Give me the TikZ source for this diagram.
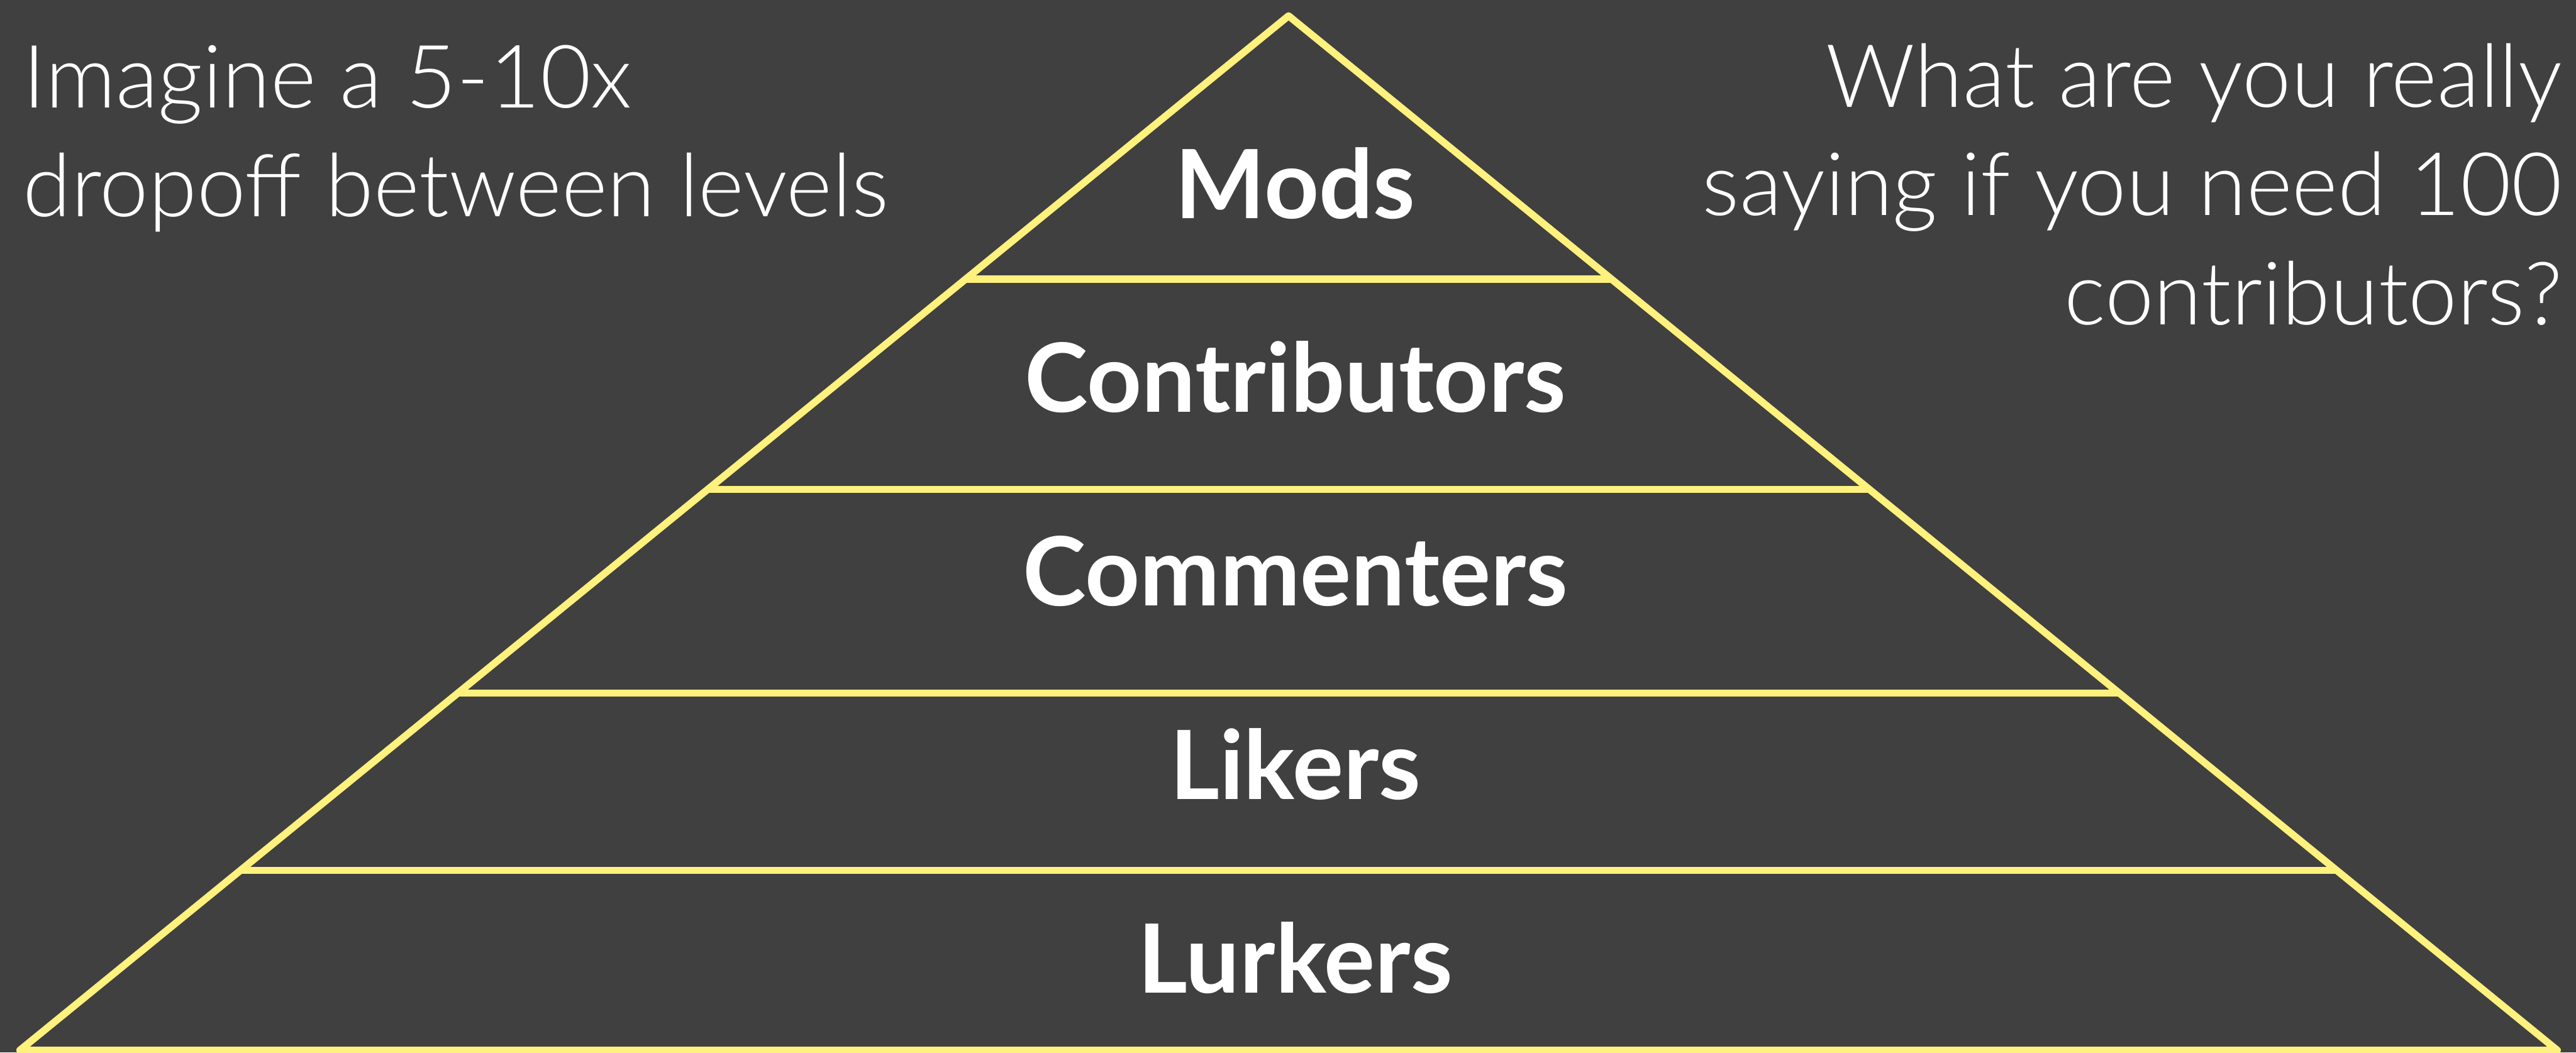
\documentclass[tikz,border=0pt]{standalone}
\usepackage{fontspec}
\setmainfont{Lato}
\newfontfamily\lightfont{Lato Light}
\usetikzlibrary{calc}

\definecolor{slide}{RGB}{64,64,64}
\definecolor{pyramid}{RGB}{255,241,125}

\newcommand*{\pw}{45.48}
\newcommand*{\ph}{18.59}

\begin{document}
\begin{tikzpicture}
[
	edge/.style={pyramid,line width=3.6pt,line join=round},
	level/.style={text=white,font=\fontsize{48}{52}\selectfont\bfseries,anchor=base,inner sep=0pt},
	remark/.style={text=white,font=\lightfont\fontsize{44}{50}\selectfont,inner sep=0pt}
]

	% background
	\fill[slide] (0,0) rectangle (\pw,\ph);
	\useasboundingbox (0,0) rectangle (\pw,\ph);

	% outline
	\coordinate (apex) at (22.75,18.31);
	\coordinate (bl) at (0.35,0.04);
	\coordinate (br) at (45.15,0.04);
	\draw[edge] (apex) -- (bl) -- (br) -- cycle;

	% dividers
	\foreach \t [count=\i] in {0.2545,0.458,0.6546,0.826} {
		\coordinate (l\i) at ($(apex)!\t!(bl)$);
		\coordinate (r\i) at ($(apex)!\t!(br)$);
		\draw[edge] (l\i) -- (r\i);
	}

	% level labels
	\foreach \name [count=\i from 0] in {Mods,Contributors,Commenters,Likers,Lurkers}
		\node[level] (\name) at (22.87,{14.73-3.42*\i}) {\name};

	% side remarks
	\node[remark,anchor=base west] (imagine) at (0.40,16.69) {Imagine a 5-10x};
	\node[remark,anchor=base west] (dropoff) at (0.40,14.77) {dropoff between levels};
	%
	\node[remark,anchor=base east] (what) at (45.24,16.70) {What are you really};
	\node[remark,anchor=base east] (saying) at (45.24,14.79) {saying if you need 100};
	\node[remark,anchor=base east] (contrib) at (45.24,12.86) {contributors?};

\end{tikzpicture}
\end{document}
